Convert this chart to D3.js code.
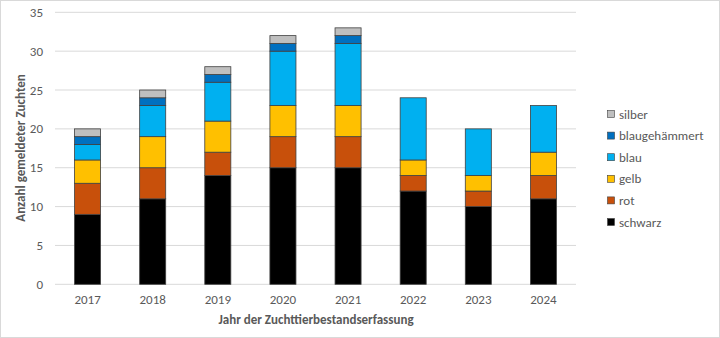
<!DOCTYPE html>
<html><head><meta charset="utf-8">
<script src="https://cdn.jsdelivr.net/npm/d3@7"></script>
<style>body{margin:0;background:#fff}svg{display:block}text{font-family:Calibri,Carlito,"Open Sans","Liberation Sans",sans-serif}</style>
</head><body><svg id="c" width="720" height="338"></svg>
<script>
const years = ["2017","2018","2019","2020","2021","2022","2023","2024"];
const schwarz = [9,11,14,15,15,12,10,11];
const rot = [4,4,3,4,4,2,2,3];
const gelb = [3,4,4,4,4,2,2,3];
const blau = [2,4,5,7,8,8,6,6];
const blaugehaemmert = [1,1,1,1,1,0,0,0];
const silber = [1,1,1,1,1,0,0,0];
const seriesNames = ["schwarz","rot","gelb","blau","blaugehämmert","silber"];
const seriesValues = [schwarz,rot,gelb,blau,blaugehaemmert,silber];
const colors = ["#000000","#C8500B","#FFC000","#00B0F0","#0070C0","#BFBFBF"];
const yTicks = [0,5,10,15,20,25,30,35];

const svg = d3.select("#c");
svg.append("rect").attr("x",0.5).attr("y",0.5).attr("width",719).attr("height",337)
  .attr("fill","#fff").attr("stroke","#d9d9d9");

const x = d3.scaleBand().domain(years).range([55,576]).paddingInner(0.6).paddingOuter(0.3);
const y = d3.scaleLinear().domain([0,35]).range([284.3,12.3]);

// gridlines
svg.append("g").selectAll("line").data(yTicks).join("line")
  .attr("x1",55).attr("x2",576).attr("y1",d=>y(d)).attr("y2",d=>y(d))
  .attr("stroke","#d9d9d9").attr("stroke-width",1);

// y tick labels
svg.append("g").selectAll("text").data(yTicks).join("text")
  .attr("x",43).attr("y",d=>y(d)).attr("dy","0.35em").attr("text-anchor","end")
  .attr("font-size",13).attr("fill","#595959").text(d=>d);

// x tick labels
svg.append("g").selectAll("text").data(years).join("text")
  .attr("x",d=>x(d)+x.bandwidth()/2).attr("y",304).attr("text-anchor","middle")
  .attr("font-size",13).attr("fill","#595959").text(d=>d);

const table = years.map((yr,i)=>{const o={year:yr}; seriesNames.forEach((s,j)=>o[s]=seriesValues[j][i]); return o;});
const stack = d3.stack().keys(seriesNames)(table);

stack.forEach((layer,j)=>{
  svg.append("g").selectAll("rect").data(layer.filter(d=>d[1]-d[0]>0)).join("rect")
    .attr("x",d=>x(d.data.year)).attr("width",x.bandwidth())
    .attr("y",d=>y(d[1])).attr("height",d=>y(d[0])-y(d[1]))
    .attr("fill",colors[j]).attr("stroke","#404040").attr("stroke-width",0.8);
});

// legend
const leg = svg.append("g");
const legOrder = seriesNames.map((s,j)=>j).reverse();
legOrder.forEach((j,k)=>{
  const yy = 114 + k*21.6;
  leg.append("rect").attr("x",607.5).attr("y",yy-3.5).attr("width",7).attr("height",7)
    .attr("fill",colors[j]).attr("stroke","#404040").attr("stroke-width",0.6);
  leg.append("text").attr("x",619).attr("y",yy).attr("dy","0.35em")
    .attr("font-size",13).attr("fill","#595959").text(seriesNames[j]);
});

// axis titles
svg.append("text").attr("transform","translate(25,148) rotate(-90)").attr("text-anchor","middle")
  .attr("font-size",13).attr("font-weight","bold").attr("fill","#595959").text("Anzahl gemeldeter Zuchten");
svg.append("text").attr("x",316).attr("y",324).attr("text-anchor","middle")
  .attr("font-size",13).attr("font-weight","bold").attr("fill","#595959").text("Jahr der Zuchttierbestandserfassung");
</script></body></html>
